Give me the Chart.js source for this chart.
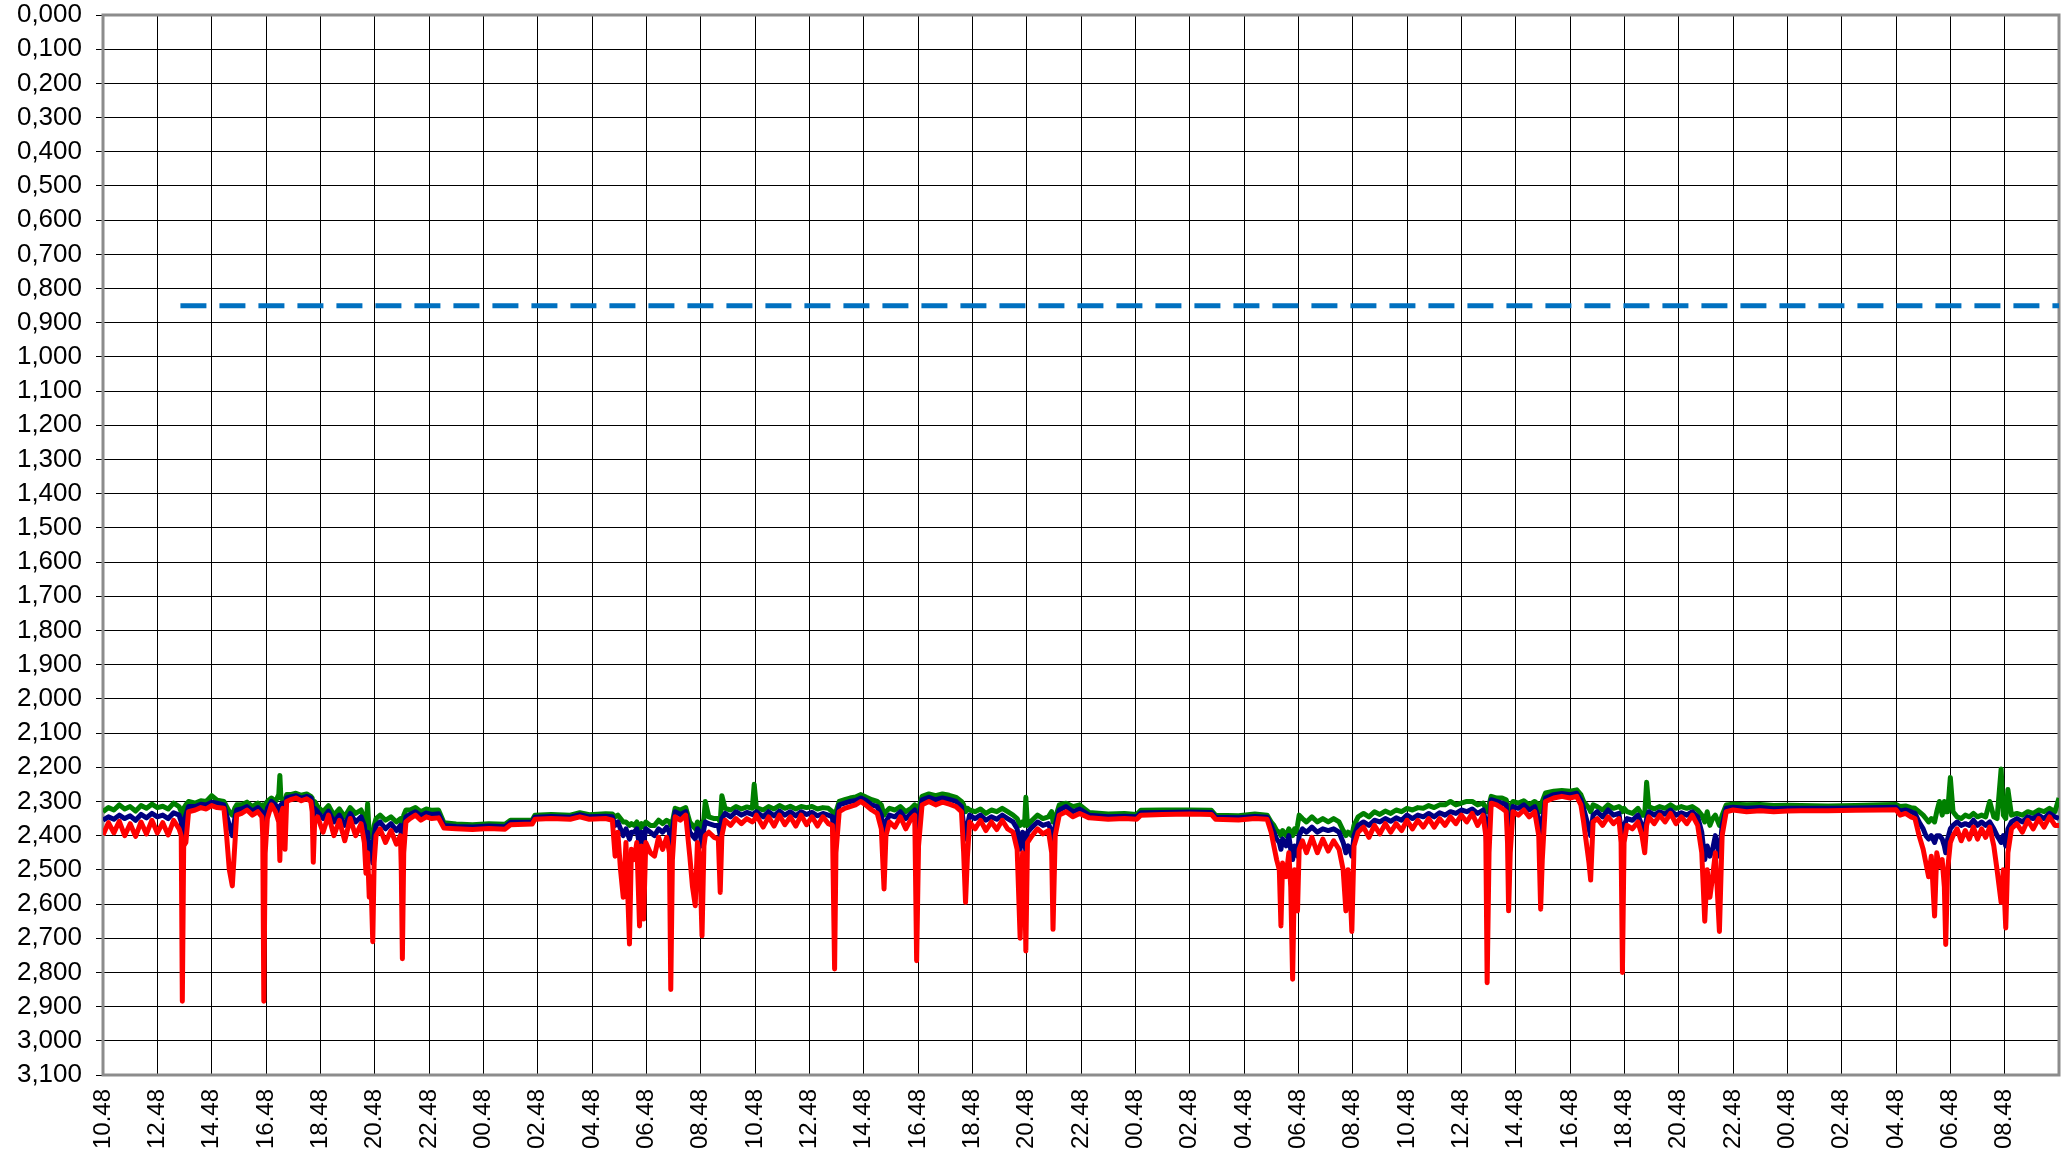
<!DOCTYPE html>
<html>
<head>
<meta charset="utf-8">
<script src="https://cdn.jsdelivr.net/npm/chart.js@4.4.1/dist/chart.umd.min.js"></script>
<style>
  body { margin: 0; background: #fff; }
  #wrap { width: 2072px; height: 1155px; }
</style>
</head>
<body>
<div id="wrap"><canvas id="chart"></canvas></div>
<script>
// labels on the x axis, one every 2 hours (x = hours from start)
const timeLabels = ['10.48', '12.48', '14.48', '16.48', '18.48', '20.48', '22.48', '00.48', '02.48', '04.48', '06.48', '08.48',
  '10.48', '12.48', '14.48', '16.48', '18.48', '20.48', '22.48', '00.48', '02.48', '04.48', '06.48', '08.48',
  '10.48', '12.48', '14.48', '16.48', '18.48', '20.48', '22.48', '00.48', '02.48', '04.48', '06.48', '08.48'];

// dashed limit line
const limitLevel = 0.85;
const limitHours = [2.85, 72];

// sample times (hours)
const hours = [
  0, 0.2, 0.4, 0.6, 0.8, 1.0, 1.2, 1.4, 1.6, 1.8, 2.0, 2.2, 2.4, 2.6, 2.8,
  2.88, 2.92, 2.97, 3.05, 3.15, 3.4, 3.6, 3.8, 4.0, 4.2, 4.45,
  4.55, 4.65, 4.76, 4.85, 4.92, 5.1, 5.3, 5.5, 5.7, 5.85,
  5.88, 5.92, 5.97, 6.05, 6.2, 6.35, 6.47, 6.51, 6.55, 6.62, 6.7, 6.76,
  6.9, 7.1, 7.3, 7.5, 7.65, 7.70, 7.74, 7.79,
  7.9, 8.1, 8.3, 8.5, 8.7, 8.9, 9.1, 9.3, 9.5,
  9.62, 9.68, 9.74, 9.80, 9.86, 9.93, 9.98, 10.05,
  10.2, 10.4, 10.6, 10.8, 10.95, 10.98, 11.02, 11.07, 11.15,
  11.3, 11.5, 11.7, 11.9, 12.1, 12.35, 12.55, 13.0, 13.6, 14.2, 14.8,
  15.0, 15.8, 15.9, 16.5, 17.2, 17.55, 17.9, 18.5, 18.75,
  18.85, 18.95, 19.05, 19.15, 19.25, 19.38, 19.45, 19.55, 19.65, 19.75, 19.82, 19.9, 19.98,
  20.15, 20.3, 20.45, 20.6, 20.75, 20.85, 20.9, 20.96, 21.06, 21.25,
  21.45, 21.6, 21.7, 21.8, 21.88, 21.97, 22.05, 22.12, 22.17, 22.3,
  22.5, 22.65, 22.72, 22.78, 22.9, 23.1, 23.3, 23.5, 23.7, 23.9, 23.97,
  24.05, 24.3, 24.5, 24.7, 24.9, 25.1, 25.3, 25.5, 25.7, 25.9, 26.1, 26.3, 26.5, 26.7, 26.85,
  26.93, 26.98, 27.1, 27.3, 27.5, 27.7, 27.9, 28.1, 28.3, 28.5, 28.65, 28.75, 28.82, 28.95,
  29.15, 29.35, 29.55, 29.75, 29.88, 29.95, 30.02, 30.15, 30.4, 30.65, 30.9, 31.15,
  31.4, 31.6, 31.68, 31.75, 31.82, 31.9, 32.1, 32.3, 32.5, 32.7, 32.9, 33.1,
  33.3, 33.5, 33.65, 33.76, 33.85, 33.92, 33.97, 34.03, 34.2, 34.4, 34.6, 34.8, 34.92,
  34.97, 35.05, 35.2, 35.45, 35.7, 35.95, 36.3, 37.0, 37.6, 38.05,
  38.2, 39.0, 40.0, 40.8, 40.95, 41.8, 42.4, 42.85,
  43.0, 43.1, 43.2, 43.3, 43.36, 43.42, 43.55, 43.65, 43.72, 43.79, 43.86, 43.92, 43.97, 44.03,
  44.15, 44.3, 44.5, 44.7, 44.9, 45.1, 45.3, 45.5,
  45.65, 45.75, 45.83, 45.9, 45.97, 46.05,
  46.2, 46.4, 46.6, 46.8, 47.0, 47.2, 47.4, 47.6, 47.8, 48.0,
  48.2, 48.4, 48.6, 48.8, 49.0, 49.2, 49.4, 49.6, 49.8, 50.0, 50.2, 50.4, 50.6, 50.8,
  50.9, 50.95, 51.02, 51.1, 51.3, 51.5, 51.65, 51.7, 51.74, 51.8, 51.9, 52.1,
  52.3, 52.5, 52.7, 52.85, 52.92, 52.98, 53.1, 53.4, 53.7, 54.0, 54.25,
  54.4, 54.5, 54.6, 54.7, 54.76, 54.85, 55.0, 55.2, 55.4, 55.6, 55.8,
  55.88, 55.93, 55.99, 56.1, 56.3, 56.5, 56.65, 56.75, 56.82, 56.9,
  57.1, 57.3, 57.5, 57.7, 57.9, 58.1, 58.3, 58.5, 58.7,
  58.85, 58.96, 59.05, 59.15, 59.25, 59.35, 59.5, 59.6, 59.75,
  60.0, 60.5, 61.0, 61.5, 62.0, 62.5, 63.5, 64.5, 65.5, 66.0,
  66.15, 66.35, 66.55, 66.7, 66.85, 67.0, 67.1, 67.2, 67.3, 67.42,
  67.5, 67.6, 67.7, 67.78, 67.83, 67.9, 68.0, 68.1, 68.25,
  68.4, 68.55, 68.7, 68.85, 69.0, 69.15, 69.3, 69.45, 69.6,
  69.72, 69.87, 69.95, 70.04, 70.12, 70.25,
  70.45, 70.65, 70.85, 71.05, 71.25, 71.45, 71.65, 71.85, 72.0
];

const redValues = [
  2.398, 2.362, 2.392, 2.358, 2.400, 2.365, 2.402, 2.360, 2.395, 2.355, 2.392, 2.362, 2.398, 2.355, 2.380,
  2.40, 2.884, 2.43, 2.42, 2.33, 2.325, 2.318, 2.322, 2.312, 2.318, 2.32,
  2.40, 2.50, 2.547, 2.43, 2.34, 2.335, 2.325, 2.34, 2.33, 2.345,
  2.40, 2.884, 2.45, 2.35, 2.31, 2.33, 2.36, 2.473, 2.34, 2.32, 2.44, 2.30,
  2.295, 2.29, 2.298, 2.292, 2.30, 2.33, 2.478, 2.36,
  2.345, 2.39, 2.34, 2.40, 2.355, 2.415, 2.35, 2.40, 2.365,
  2.42, 2.51, 2.45, 2.58, 2.52, 2.71, 2.48, 2.40,
  2.38, 2.42, 2.385, 2.425, 2.40, 2.50, 2.76, 2.45, 2.36,
  2.35, 2.34, 2.355, 2.345, 2.35, 2.348, 2.378, 2.38, 2.382, 2.379, 2.381,
  2.368, 2.366, 2.352, 2.35, 2.352, 2.345, 2.352, 2.35, 2.355,
  2.46, 2.39, 2.50, 2.58, 2.42, 2.717, 2.44, 2.47, 2.42, 2.664, 2.43, 2.644, 2.42,
  2.45, 2.46, 2.405, 2.44, 2.405, 2.45, 2.85, 2.47, 2.345, 2.355,
  2.34, 2.46, 2.55, 2.605, 2.42, 2.47, 2.693, 2.43, 2.40, 2.39,
  2.405, 2.41, 2.566, 2.40, 2.355, 2.37, 2.35, 2.365, 2.35, 2.36, 2.355,
  2.34, 2.375, 2.345, 2.372, 2.34, 2.368, 2.345, 2.372, 2.34, 2.368, 2.345, 2.372, 2.345, 2.365, 2.37,
  2.79, 2.45, 2.33, 2.32, 2.315, 2.31, 2.30, 2.312, 2.325, 2.335, 2.38, 2.556, 2.40, 2.36,
  2.375, 2.345, 2.38, 2.35, 2.34, 2.766, 2.43, 2.31, 2.30, 2.31, 2.302, 2.308,
  2.315, 2.33, 2.45, 2.595, 2.46, 2.36, 2.38, 2.355, 2.385, 2.36, 2.382, 2.355,
  2.38, 2.39, 2.44, 2.70, 2.45, 2.48, 2.737, 2.42, 2.40, 2.38, 2.395, 2.385, 2.45,
  2.674, 2.40, 2.34, 2.33, 2.345, 2.335, 2.348, 2.352, 2.35, 2.352,
  2.34, 2.338, 2.337, 2.338, 2.352, 2.354, 2.35, 2.352,
  2.39, 2.43, 2.47, 2.50, 2.664, 2.48, 2.52, 2.45, 2.55, 2.82, 2.50, 2.56, 2.62, 2.44,
  2.415, 2.45, 2.405, 2.45, 2.41, 2.445, 2.415, 2.44,
  2.50, 2.62, 2.50, 2.55, 2.68, 2.43,
  2.39, 2.375, 2.405, 2.37, 2.395, 2.365, 2.39, 2.365, 2.385, 2.355,
  2.38, 2.355, 2.375, 2.35, 2.375, 2.35, 2.37, 2.345, 2.365, 2.34, 2.36, 2.335, 2.37, 2.34,
  2.40, 2.83, 2.45, 2.305, 2.31, 2.32, 2.33, 2.42, 2.62, 2.45, 2.33, 2.34,
  2.325, 2.345, 2.33, 2.40, 2.615, 2.47, 2.30, 2.29, 2.285, 2.29, 2.285,
  2.31, 2.36, 2.42, 2.48, 2.53, 2.36, 2.35, 2.37, 2.345, 2.365, 2.35,
  2.42, 2.80, 2.42, 2.37, 2.38, 2.36, 2.40, 2.45, 2.37, 2.345,
  2.365, 2.34, 2.36, 2.335, 2.365, 2.345, 2.365, 2.34, 2.37,
  2.45, 2.65, 2.50, 2.58, 2.52, 2.45, 2.68, 2.40, 2.33,
  2.325, 2.33, 2.327, 2.33, 2.328, 2.327, 2.327, 2.326, 2.325, 2.324,
  2.34, 2.335, 2.345, 2.35, 2.40, 2.44, 2.48, 2.52, 2.46, 2.635,
  2.45, 2.49, 2.47, 2.55, 2.718, 2.50, 2.42, 2.40, 2.38,
  2.415, 2.385, 2.41, 2.375, 2.41, 2.38, 2.405, 2.375, 2.43,
  2.50, 2.595, 2.50, 2.67, 2.45, 2.38,
  2.365, 2.39, 2.355, 2.38, 2.35, 2.375, 2.345, 2.37, 2.37
];

const blueValues = [
  2.355, 2.345, 2.352, 2.340, 2.350, 2.342, 2.355, 2.338, 2.348, 2.335, 2.345, 2.340, 2.350, 2.333, 2.340,
  2.36, 2.42, 2.36, 2.34, 2.315, 2.315, 2.308, 2.310, 2.302, 2.305, 2.31,
  2.34, 2.37, 2.40, 2.35, 2.325, 2.322, 2.315, 2.328, 2.318, 2.33,
  2.34, 2.45, 2.36, 2.32, 2.30, 2.31, 2.32, 2.33, 2.31, 2.305, 2.33, 2.29,
  2.287, 2.283, 2.29, 2.285, 2.29, 2.30, 2.36, 2.32,
  2.33, 2.35, 2.328, 2.36, 2.34, 2.37, 2.335, 2.36, 2.345,
  2.37, 2.43, 2.39, 2.46, 2.42, 2.48, 2.40, 2.37,
  2.36, 2.38, 2.365, 2.385, 2.37, 2.40, 2.45, 2.38, 2.345,
  2.338, 2.33, 2.342, 2.334, 2.338, 2.336, 2.37, 2.373, 2.375, 2.372, 2.374,
  2.361, 2.36, 2.346, 2.344, 2.346, 2.339, 2.345, 2.343, 2.345,
  2.37, 2.36, 2.38, 2.40, 2.38, 2.41, 2.39, 2.39, 2.38, 2.43, 2.39, 2.42, 2.38,
  2.39, 2.40, 2.38, 2.39, 2.375, 2.39, 2.44, 2.38, 2.33, 2.338,
  2.33, 2.39, 2.40, 2.41, 2.38, 2.39, 2.43, 2.38, 2.36, 2.365,
  2.37, 2.37, 2.40, 2.35, 2.335, 2.345, 2.33, 2.34, 2.332, 2.338, 2.335,
  2.33, 2.345, 2.33, 2.342, 2.328, 2.34, 2.33, 2.342, 2.33, 2.338, 2.332, 2.342, 2.335, 2.34, 2.345,
  2.44, 2.36, 2.31, 2.305, 2.30, 2.297, 2.29, 2.298, 2.31, 2.315, 2.34, 2.40, 2.36, 2.34,
  2.345, 2.33, 2.35, 2.335, 2.325, 2.45, 2.36, 2.295, 2.288, 2.295, 2.29, 2.294,
  2.30, 2.315, 2.37, 2.41, 2.37, 2.34, 2.35, 2.34, 2.355, 2.345, 2.352, 2.34,
  2.35, 2.36, 2.38, 2.44, 2.39, 2.40, 2.45, 2.39, 2.375, 2.36, 2.37, 2.365, 2.39,
  2.43, 2.37, 2.325, 2.315, 2.33, 2.322, 2.34, 2.345, 2.343, 2.345,
  2.333, 2.332, 2.331, 2.332, 2.346, 2.348, 2.344, 2.346,
  2.37, 2.39, 2.41, 2.42, 2.44, 2.41, 2.43, 2.40, 2.44, 2.47, 2.43, 2.45, 2.46, 2.40,
  2.38, 2.39, 2.375, 2.39, 2.38, 2.385, 2.38, 2.39,
  2.42, 2.45, 2.43, 2.44, 2.46, 2.40,
  2.37, 2.36, 2.37, 2.355, 2.36, 2.35, 2.358, 2.348, 2.355, 2.34,
  2.35, 2.34, 2.345, 2.335, 2.345, 2.333, 2.34, 2.33, 2.335, 2.325, 2.33, 2.322, 2.335, 2.325,
  2.36, 2.48, 2.37, 2.295, 2.30, 2.305, 2.31, 2.36, 2.42, 2.37, 2.315, 2.32,
  2.31, 2.325, 2.315, 2.35, 2.42, 2.37, 2.29, 2.28, 2.277, 2.28, 2.276,
  2.295, 2.32, 2.35, 2.38, 2.40, 2.34, 2.33, 2.345, 2.325, 2.34, 2.335,
  2.38, 2.44, 2.37, 2.35, 2.355, 2.34, 2.37, 2.385, 2.35, 2.33,
  2.34, 2.33, 2.337, 2.325, 2.34, 2.333, 2.34, 2.33, 2.345,
  2.39, 2.47, 2.43, 2.46, 2.44, 2.40, 2.46, 2.37, 2.32,
  2.317, 2.32, 2.318, 2.321, 2.32, 2.32, 2.32, 2.319, 2.318, 2.317,
  2.328, 2.325, 2.33, 2.335, 2.36, 2.38, 2.40, 2.41, 2.40, 2.42,
  2.40, 2.40, 2.41, 2.43, 2.45, 2.41, 2.38, 2.37, 2.36,
  2.37, 2.365, 2.37, 2.355, 2.37, 2.36, 2.37, 2.36, 2.38,
  2.40, 2.42, 2.40, 2.43, 2.38, 2.36,
  2.35, 2.36, 2.345, 2.35, 2.34, 2.35, 2.335, 2.345, 2.35
];

const greenValues = [
  2.330, 2.318, 2.325, 2.310, 2.322, 2.315, 2.328, 2.312, 2.320, 2.308, 2.318, 2.314, 2.322, 2.305, 2.315,
  2.33, 2.36, 2.32, 2.31, 2.30, 2.305, 2.298, 2.300, 2.283, 2.296, 2.30,
  2.315, 2.33, 2.34, 2.32, 2.31, 2.31, 2.302, 2.315, 2.305, 2.315,
  2.31, 2.33, 2.31, 2.30, 2.29, 2.30, 2.28, 2.224, 2.29, 2.295, 2.30, 2.28,
  2.28, 2.276, 2.282, 2.278, 2.285, 2.29, 2.31, 2.30,
  2.315, 2.33, 2.312, 2.34, 2.322, 2.345, 2.318, 2.335, 2.325,
  2.35, 2.38, 2.307, 2.40, 2.39, 2.41, 2.37, 2.35,
  2.34, 2.355, 2.345, 2.36, 2.35, 2.36, 2.38, 2.34, 2.325,
  2.325, 2.318, 2.33, 2.322, 2.326, 2.325, 2.362, 2.366, 2.368, 2.365, 2.367,
  2.355, 2.354, 2.34, 2.338, 2.34, 2.333, 2.339, 2.336, 2.337,
  2.345, 2.34, 2.35, 2.36, 2.36, 2.37, 2.365, 2.37, 2.36, 2.38, 2.365, 2.375, 2.36,
  2.37, 2.37, 2.355, 2.365, 2.355, 2.36, 2.37, 2.36, 2.32, 2.325,
  2.318, 2.36, 2.37, 2.38, 2.36, 2.365, 2.38, 2.35, 2.30, 2.345,
  2.35, 2.35, 2.36, 2.283, 2.32, 2.325, 2.315, 2.322, 2.316, 2.32, 2.25,
  2.318, 2.325, 2.315, 2.322, 2.312, 2.32, 2.314, 2.322, 2.315, 2.318, 2.315, 2.322, 2.318, 2.32, 2.33,
  2.34, 2.33, 2.30, 2.295, 2.29, 2.287, 2.28, 2.288, 2.295, 2.30, 2.31, 2.34, 2.33, 2.32,
  2.325, 2.315, 2.33, 2.32, 2.31, 2.34, 2.32, 2.285, 2.278, 2.283, 2.278, 2.282,
  2.288, 2.30, 2.31, 2.33, 2.32, 2.325, 2.33, 2.322, 2.335, 2.325, 2.33, 2.32,
  2.33, 2.34, 2.35, 2.37, 2.36, 2.37, 2.288, 2.37, 2.355, 2.34, 2.35, 2.345, 2.33,
  2.36, 2.35, 2.31, 2.305, 2.315, 2.31, 2.332, 2.337, 2.335, 2.338,
  2.326, 2.325, 2.325, 2.326, 2.34, 2.342, 2.337, 2.34,
  2.36, 2.37, 2.385, 2.39, 2.40, 2.385, 2.40, 2.38, 2.39, 2.40, 2.38, 2.39, 2.37, 2.34,
  2.35, 2.36, 2.345, 2.36, 2.35, 2.36, 2.35, 2.36,
  2.385, 2.40, 2.39, 2.395, 2.40, 2.37,
  2.345, 2.335, 2.345, 2.33, 2.338, 2.328, 2.335, 2.325, 2.33, 2.32,
  2.325, 2.318, 2.32, 2.312, 2.318, 2.31, 2.31, 2.30, 2.31, 2.305, 2.30, 2.30, 2.31, 2.305,
  2.32, 2.33, 2.31, 2.285, 2.29, 2.29, 2.295, 2.31, 2.33, 2.32, 2.30, 2.305,
  2.298, 2.31, 2.30, 2.31, 2.33, 2.30, 2.275, 2.27, 2.268, 2.27, 2.266,
  2.28, 2.30, 2.31, 2.32, 2.33, 2.31, 2.315, 2.325, 2.31, 2.32, 2.315,
  2.32, 2.33, 2.32, 2.33, 2.335, 2.32, 2.34, 2.34, 2.244, 2.315,
  2.322, 2.315, 2.32, 2.31, 2.32, 2.315, 2.32, 2.315, 2.325,
  2.34, 2.36, 2.33, 2.37, 2.35, 2.34, 2.37, 2.34, 2.31,
  2.308, 2.31, 2.309, 2.312, 2.311, 2.312, 2.313, 2.312, 2.31, 2.309,
  2.315, 2.313, 2.318, 2.32, 2.33, 2.34, 2.35, 2.36, 2.35, 2.36,
  2.33, 2.30, 2.34, 2.30, 2.33, 2.33, 2.23, 2.33, 2.345,
  2.35, 2.34, 2.345, 2.335, 2.345, 2.34, 2.345, 2.30, 2.345,
  2.35, 2.205, 2.34, 2.35, 2.265, 2.34,
  2.335, 2.34, 2.33, 2.335, 2.325, 2.33, 2.32, 2.33, 2.29
];

function points(values) {
  return hours.map((h, i) => ({ x: h, y: values[i] }));
}

// grey frame round the plot area
const frame = {
  id: 'frame',
  beforeDatasetsDraw(chart) {
    const a = chart.chartArea;
    const ctx = chart.ctx;
    ctx.save();
    ctx.strokeStyle = '#8c8c8c';
    ctx.lineWidth = 3;
    ctx.strokeRect(a.left, a.top, a.right - a.left, a.bottom - a.top);
    ctx.restore();
  }
};

const lineStyle = {
  pointRadius: 0,
  borderWidth: 5,
  tension: 0,
  fill: false,
  borderJoinStyle: 'round'
};

// the layout gets its margins from layout.padding only
function noPadding(axis) {
  axis.paddingTop = 0;
  axis.paddingBottom = 0;
  axis.paddingLeft = 0;
  axis.paddingRight = 0;
}

new Chart(document.getElementById('chart'), {
  type: 'line',
  data: {
    datasets: [
      { ...lineStyle, data: points(redValues), borderColor: '#ff0000', order: 1 },
      { ...lineStyle, data: points(blueValues), borderColor: '#000080', order: 2 },
      { ...lineStyle, data: points(greenValues), borderColor: '#008000', order: 3 },
      {
        data: limitHours.map(h => ({ x: h, y: limitLevel })),
        borderColor: '#0070c0',
        borderWidth: 5,
        borderDash: [26, 13],
        pointRadius: 0,
        order: 4
      }
    ]
  },
  options: {
    responsive: true,
    maintainAspectRatio: false,
    animation: false,
    layout: { padding: { top: 15, right: 13, left: 0, bottom: 0 } },
    plugins: {
      legend: { display: false },
      tooltip: { enabled: false }
    },
    scales: {
      x: {
        type: 'linear',
        min: 0,
        max: 72,
        afterFit: (axis) => { axis.height = 80; noPadding(axis); },
        grid: { color: '#000', lineWidth: 1, drawTicks: false },
        border: { color: '#555', width: 1 },
        ticks: {
          stepSize: 2,
          autoSkip: false,
          minRotation: 90,
          maxRotation: 90,
          padding: 14,
          color: '#000',
          font: { family: "'Liberation Sans', Arial, sans-serif", size: 24 },
          callback: (v) => timeLabels[Math.round(v / 2)] || ''
        }
      },
      y: {
        type: 'linear',
        reverse: true,
        min: 0,
        max: 3.1,
        afterFit: (axis) => { axis.width = 103; noPadding(axis); },
        grid: { color: '#000', lineWidth: 1, tickLength: 7 },
        border: { color: '#555', width: 2 },
        ticks: {
          stepSize: 0.1,
          autoSkip: false,
          padding: 14,
          color: '#000',
          font: { family: "'Liberation Sans', Arial, sans-serif", size: 26 },
          callback: (v) => v.toFixed(3).replace('.', ',')
        }
      }
    }
  },
  plugins: [frame]
});
</script>
</body>
</html>
